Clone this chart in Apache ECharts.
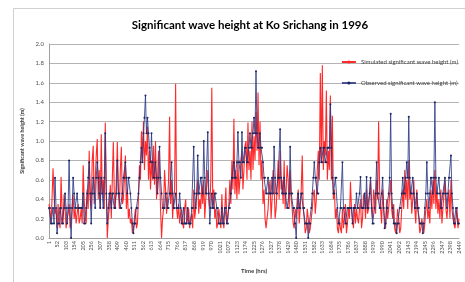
<!DOCTYPE html>
<html>
<head>
<meta charset="UTF-8">
<script type="text/javascript" src="https://cdn.jsdelivr.net/npm/echarts@6/dist/echarts.min.js"></script>
<title>Significant wave height</title>
<style>
	html, body { margin: 0; padding: 0; background: #fff; }
	#main { width: 465px; height: 282px; }
</style>
</head>
<body>
<div id="main"></div>
<script type="text/javascript">
	// one sample every 6 hours, starting at hour 1
	var sampleStep = 6;

	var tickLabels = ['1','52','103','154','205','256','307','358','409','460','511','562','613','664','715','766','817',
		'868','919','970','1021','1072','1123','1174','1225','1276','1327','1378','1429','1480','1531','1582','1633',
		'1684','1735','1786','1837','1888','1939','1990','2041','2092','2143','2194','2245','2296','2347','2398','2449'];

	var simulated = [
		0.35,0.28,0.15,0.4,0.72,0.45,0.25,0.3,0.1,0.35,0.2,0.1,0.63,0.3,0.15,0.45,0.3,0.1,0.2,0.25,
		0.35,0.1,0.15,0.3,0.45,0.2,0.3,0.15,0.25,0.35,0.15,0.2,0.3,0.15,0.75,0.4,0.2,0.15,0.5,0.3,
		0.9,0.4,0.3,0.8,0.95,0.35,0.6,0.85,1.02,0.4,0.7,0.3,1.07,0.45,0.6,0.3,1.19,0.5,0.0,0.2,
		0.3,0.55,0.2,0.6,0.99,0.45,0.3,0.6,0.99,0.5,0.3,0.7,0.94,0.35,0.4,0.6,0.85,0.3,0.5,0.2,
		0.3,0.15,0.2,0.05,0.1,0.2,0.3,0.1,0.15,0.4,0.75,0.6,1.1,0.8,1.2,0.7,1.0,0.85,1.15,0.6,
		0.9,0.5,0.8,0.6,0.95,0.55,1.0,0.4,0.6,0.9,0.7,0.3,0.0,0.2,0.3,0.7,0.5,0.25,0.4,0.6,
		1.25,0.35,0.6,0.2,0.4,0.5,1.59,0.3,0.2,0.35,0.15,0.25,0.3,0.15,0.1,0.3,0.4,0.15,0.2,0.3,
		0.1,0.2,0.25,0.1,0.5,0.2,0.3,0.45,0.6,0.25,0.4,0.3,0.55,0.35,0.6,0.2,0.4,0.55,0.7,0.4,
		0.3,0.6,1.55,0.3,0.5,0.2,0.3,0.1,0.15,0.3,0.2,0.1,0.45,0.2,0.1,0.3,0.52,0.15,0.2,0.35,
		0.6,0.35,0.8,0.5,1.23,0.45,0.7,0.4,0.8,0.45,0.6,0.8,0.9,0.5,0.7,0.95,1.0,0.6,1.19,0.7,
		0.9,0.6,1.2,0.7,1.05,0.8,1.3,0.9,1.5,0.75,1.2,0.6,0.8,0.35,0.5,0.2,0.1,0.2,0.3,0.5,
		0.6,0.2,0.4,0.7,0.6,0.2,0.3,0.5,0.8,0.4,0.9,0.5,0.6,0.35,0.8,0.3,0.5,0.75,0.6,0.3,
		0.7,0.4,0.3,0.15,0.1,0.3,0.2,0.4,0.5,0.15,0.3,0.5,0.85,0.3,0.2,0.05,0.1,0.3,0.2,0.05,
		0.1,0.2,0.3,0.45,0.5,0.25,0.4,0.7,0.9,0.6,1.7,0.8,1.78,0.7,1.0,0.85,1.52,0.6,0.9,0.7,
		1.47,0.6,1.26,0.4,0.5,0.2,0.3,0.1,0.05,0.2,0.1,0.05,0.3,0.1,0.2,0.35,0.05,0.15,0.3,0.2,
		0.58,0.3,0.2,0.1,0.35,0.15,0.3,0.2,0.15,0.3,0.4,0.1,0.2,0.45,0.4,0.2,0.5,0.25,0.3,0.45,
		0.6,0.3,0.2,0.5,0.4,0.25,0.6,0.4,1.2,0.5,0.3,0.15,0.5,0.3,0.2,0.1,0.4,0.2,0.3,0.45,
		0.6,0.3,0.2,0.35,0.1,0.05,0.15,0.3,0.2,0.05,0.1,0.3,0.5,0.3,0.7,0.4,0.6,0.3,0.8,0.4,
		0.5,0.25,0.4,0.6,0.3,0.15,0.5,0.3,0.2,0.05,0.1,0.2,0.2,0.05,0.15,0.3,0.4,0.2,0.3,0.15,
		0.5,0.3,0.6,0.35,0.7,0.3,0.5,0.25,0.4,0.2,0.5,0.15,0.3,0.45,0.6,0.3,0.2,0.35,0.5,0.2,
		0.6,0.3,0.2,0.15,0.1,0.2,0.3,0.1,0.2
	];

	var observed = [
		0.31,0.31,0.15,0.15,0.31,0.15,0.62,0.31,0.05,0.15,0.15,0.31,0.31,0.15,0.15,0.31,0.46,0.31,0.15,0.31,
		0.8,0.31,0.0,0.31,0.62,0.46,0.31,0.31,0.46,0.31,0.31,0.31,0.31,0.31,0.46,0.15,0.15,0.31,0.46,0.62,
		0.78,0.46,0.15,0.46,0.62,0.46,0.31,0.62,0.78,0.62,0.46,0.31,0.62,0.46,0.31,0.62,1.08,0.46,0.15,0.31,
		0.46,0.46,0.31,0.46,0.46,0.31,0.31,0.46,0.8,0.46,0.46,0.31,0.31,0.46,0.62,0.62,0.78,0.62,0.46,0.62,
		0.62,0.46,0.31,0.15,0.05,0.15,0.15,0.31,0.31,0.46,0.62,0.78,0.93,0.78,1.08,1.24,1.47,1.08,1.24,1.08,
		0.93,0.78,1.08,0.78,0.62,0.62,0.78,0.62,0.46,0.62,0.94,0.62,0.46,0.31,0.31,0.31,0.46,0.46,0.31,0.31,
		0.46,0.46,0.78,0.46,0.31,0.31,0.46,0.31,0.31,0.31,0.46,0.31,0.15,0.15,0.31,0.15,0.15,0.15,0.31,0.15,
		0.15,0.15,0.31,0.31,0.94,0.46,0.31,0.46,0.85,0.46,0.46,0.62,0.62,0.46,1.0,0.62,0.46,0.46,1.09,0.46,
		0.15,0.31,0.46,0.31,0.31,0.46,0.46,0.31,0.31,0.15,0.15,0.15,0.31,0.15,0.15,0.31,0.31,0.15,0.15,0.31,
		0.31,0.46,0.62,0.62,0.78,0.62,0.62,0.78,1.09,0.78,0.78,0.62,1.09,0.78,0.78,0.93,0.93,0.78,0.78,0.93,
		1.08,0.93,0.93,1.08,1.24,1.08,1.72,1.08,0.93,0.93,1.08,0.93,0.93,0.78,0.62,0.62,0.46,0.46,0.62,0.46,
		0.46,0.46,0.62,0.46,0.94,0.62,0.46,0.46,0.62,0.62,1.12,0.62,0.46,0.46,0.62,0.46,0.46,0.31,0.31,0.46,
		0.94,0.46,0.46,0.31,0.31,0.15,0.0,0.31,0.46,0.31,0.31,0.46,0.46,0.31,0.31,0.15,0.15,0.15,0.0,0.15,
		0.15,0.31,0.46,0.62,0.78,0.62,0.62,0.46,0.46,0.78,0.93,0.78,0.78,0.93,0.93,0.78,0.78,0.93,0.93,0.93,
		1.38,0.93,0.62,0.46,0.46,0.62,0.62,0.31,0.15,0.15,0.31,0.31,0.78,0.31,0.31,0.15,0.15,0.31,0.31,0.31,
		0.31,0.31,0.15,0.31,0.31,0.31,0.46,0.31,0.31,0.46,0.63,0.31,0.31,0.31,0.46,0.31,0.63,0.31,0.31,0.46,
		0.62,0.31,0.15,0.15,0.31,0.46,0.78,0.46,0.46,0.31,0.31,0.46,0.62,0.31,0.1,0.15,0.31,0.31,0.46,0.62,
		1.28,0.46,0.31,0.15,0.15,0.15,0.05,0.15,0.15,0.31,0.31,0.46,0.62,0.46,0.46,0.62,0.78,0.62,1.25,0.62,
		0.46,0.46,0.62,0.46,0.31,0.31,0.46,0.31,0.31,0.15,0.15,0.15,0.05,0.15,0.31,0.46,0.78,0.46,0.31,0.46,
		0.62,0.62,0.46,0.62,1.4,0.62,0.46,0.46,0.62,0.46,0.31,0.31,0.46,0.46,0.62,0.46,0.31,0.46,0.62,0.62,
		0.85,0.46,0.31,0.15,0.15,0.31,0.31,0.15,0.15
	];

	// pair each value with its hour offset from hour 1
	function toPoints(values){
		var pts = [];
		for (var i = 0; i < values.length; i++) {
			pts.push([i * sampleStep, values[i]]);
		}
		return pts;
	}

	var myChart = echarts.init(document.getElementById('main'));
	var font = 'Lato, "Open Sans", sans-serif';

	var option = {
		animation: false,
		textStyle: { fontFamily: font },
		graphic: [{
			type: 'rect',
			shape: { x: 13.5, y: 8.5, width: 470, height: 290 },
			style: { fill: 'none', stroke: '#d0d0d0', lineWidth: 1 },
			silent: true
		}],
		title: {
			text: 'Significant wave height at Ko Srichang in 1996',
			left: 245,
			textAlign: 'center',
			top: 14,
			textStyle: { fontSize: 11.5, fontWeight: 'bold', color: '#000', fontFamily: font }
		},
		legend: {
			orient: 'vertical',
			right: 2,
			top: 54,
			itemWidth: 14,
			itemHeight: 4,
			itemGap: 15,
			textStyle: { fontSize: 6, color: '#404040' },
			data: ['Simulated significant wave height (m)', 'Observed significant wave height (m)']
		},
		grid: { left: 49, right: 6, top: 44, bottom: 44 },
		xAxis: {
			type: 'value',
			min: 0,
			max: 2448,
			interval: 51,
			name: 'Time (hrs)',
			nameLocation: 'middle',
			nameGap: 30,
			nameTextStyle: { fontSize: 6, fontWeight: 'bold', color: '#404040' },
			axisLine: { lineStyle: { color: '#a0a0a0' } },
			axisTick: { show: false },
			splitLine: { show: false },
			axisLabel: {
				rotate: 90,
				fontSize: 5.5,
				color: '#505050',
				margin: 3,
				showMinLabel: true,
				showMaxLabel: true,
				formatter: function(v){ return tickLabels[Math.round(v / 51)]; }
			}
		},
		yAxis: {
			type: 'value',
			min: 0,
			max: 2,
			interval: 0.2,
			name: 'Significant wave height (m)',
			nameLocation: 'middle',
			nameGap: 18,
			nameTextStyle: { fontSize: 5.5, fontWeight: 'bold', color: '#404040' },
			axisLine: { show: true, lineStyle: { color: '#a0a0a0' } },
			axisTick: { show: false },
			splitLine: { lineStyle: { color: '#b4b4b4', width: 1 } },
			axisLabel: {
				fontSize: 6,
				color: '#505050',
				margin: 5,
				formatter: function(v){ return v.toFixed(1); }
			}
		},
		series: [
			{
				name: 'Simulated significant wave height (m)',
				type: 'line',
				data: toPoints(simulated),
				symbol: 'none',
				lineStyle: { color: '#ff2a2a', width: 1.1 },
				itemStyle: { color: '#ff2a2a' }
			},
			{
				name: 'Observed significant wave height (m)',
				type: 'line',
				data: toPoints(observed),
				symbol: 'circle',
				symbolSize: 2,
				showAllSymbol: true,
				lineStyle: { color: '#2b3a86', width: 1, opacity: 0.85 },
				itemStyle: { color: '#1c2560' }
			}
		]
	};
	myChart.setOption(option);
</script>
</body>
</html>
